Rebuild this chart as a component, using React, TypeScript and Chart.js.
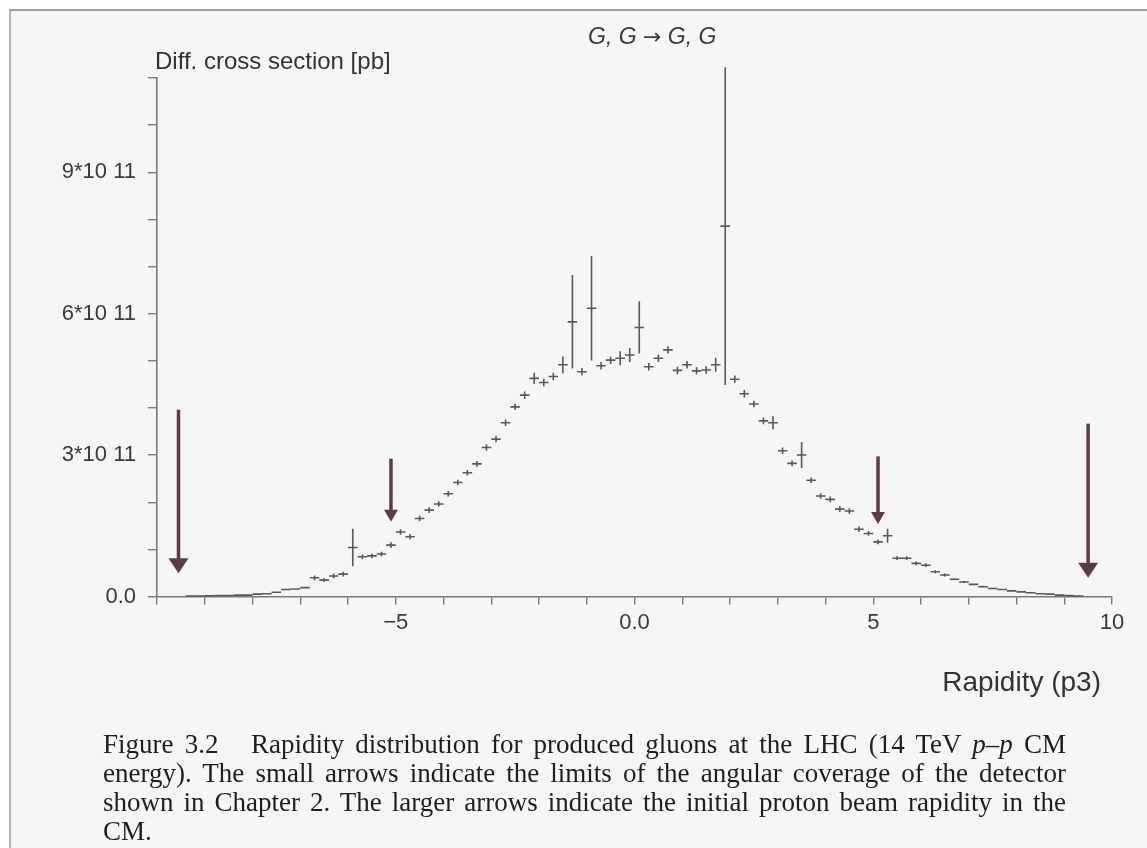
import React, { useEffect, useRef } from 'react';
import { Chart, registerables } from 'chart.js';

Chart.register(...registerables);

// ---- data (cross section in units of 1e11 pb) ----
const SCALE = 1e11;
const binWidth = 0.2;
const rapidity = [
  -9.3, -9.1, -8.9, -8.7, -8.5, -8.3, -8.1, -7.9, -7.7, -7.5, -7.3, -7.1, -6.9,
  -6.7, -6.5, -6.3, -6.1, -5.9, -5.7, -5.5, -5.3, -5.1, -4.9, -4.7, -4.5, -4.3,
  -4.1, -3.9, -3.7, -3.5, -3.3, -3.1, -2.9, -2.7, -2.5, -2.3, -2.1, -1.9, -1.7,
  -1.5, -1.3, -1.1, -0.9, -0.7, -0.5, -0.3, -0.1, 0.1, 0.3, 0.5, 0.7, 0.9, 1.1,
  1.3, 1.5, 1.7, 1.9, 2.1, 2.3, 2.5, 2.7, 2.9, 3.1, 3.3, 3.5, 3.7, 3.9, 4.1, 4.3,
  4.5, 4.7, 4.9, 5.1, 5.3, 5.5, 5.7, 5.9, 6.1, 6.3, 6.5, 6.7, 6.9, 7.1, 7.3, 7.5,
  7.7, 7.9, 8.1, 8.3, 8.5, 8.7, 8.9, 9.1, 9.3,
];
const crossSection = [
  0.01, 0.01, 0.015, 0.02, 0.02, 0.03, 0.03, 0.05, 0.06, 0.09, 0.15, 0.16, 0.19,
  0.40, 0.35, 0.44, 0.48, 1.05, 0.85, 0.87, 0.91, 1.10, 1.38, 1.28, 1.67, 1.85,
  1.98, 2.20, 2.44, 2.65, 2.84, 3.19, 3.37, 3.72, 4.06, 4.31, 4.67, 4.58, 4.71,
  4.96, 5.88, 4.81, 6.17, 4.94, 5.06, 5.10, 5.17, 5.76, 4.92, 5.10, 5.28, 4.84, 4.96,
  4.83, 4.85, 4.96, 7.93, 4.65, 4.34, 4.12, 3.76, 3.72, 3.12, 2.85, 3.03, 2.49, 2.15, 2.08, 1.87,
  1.83, 1.44, 1.35, 1.17, 1.30, 0.82, 0.82, 0.71, 0.67, 0.53, 0.46, 0.37, 0.31, 0.26, 0.21, 0.17,
  0.15, 0.12, 0.10, 0.08, 0.06, 0.05, 0.03, 0.02, 0.01,
];
const errors = [
  0.005, 0.005, 0.005, 0.005, 0.005, 0.005, 0.005, 0.01, 0.01, 0.01, 0.01, 0.01, 0.02,
  0.05, 0.04, 0.05, 0.05, 0.40, 0.05, 0.05, 0.05, 0.06, 0.06, 0.06, 0.06, 0.06,
  0.06, 0.06, 0.06, 0.06, 0.06, 0.07, 0.07, 0.07, 0.07, 0.08, 0.12, 0.08, 0.08,
  0.18, 1.00, 0.08, 1.12, 0.08, 0.08, 0.15, 0.15, 0.56, 0.08, 0.08, 0.08, 0.08, 0.08,
  0.08, 0.08, 0.15, 3.40, 0.08, 0.08, 0.07, 0.07, 0.14, 0.07, 0.06, 0.28, 0.06, 0.06, 0.06, 0.06,
  0.06, 0.06, 0.05, 0.05, 0.15, 0.04, 0.04, 0.04, 0.04, 0.03, 0.03, 0.02, 0.02, 0.02, 0.02, 0.01,
  0.01, 0.01, 0.01, 0.01, 0.005, 0.005, 0.005, 0.005, 0.005,
];

// beam-rapidity arrows (large) and detector-coverage arrows (small)
const beamArrowX = [-9.55, 9.5];
const beamArrowTop = [4.0, 3.7];
const beamArrowTip = [0.5, 0.4];
const detArrowX = [-5.1, 5.1];
const detArrowTop = [2.95, 3.0];
const detArrowTip = [1.6, 1.55];

const yTickLabels: Record<number, string> = { 0: '0.0', 3: '3*10 11', 6: '6*10 11', 9: '9*10 11' };
const xTickLabels: Record<number, string> = { [-5]: '\u22125', 0: '0.0', 5: '5', 10: '10' };

const ARROW_COLOR = '#5b3c44';
const CROSS_COLOR = '#585858';
const AXIS_COLOR = '#7a7a7a';
const TICK_FONT = { family: 'Liberation Sans, Arial, sans-serif', size: 22 };

const crossPlugin = {
  id: 'crossesAndArrows',
  afterDatasetsDraw(chart: any) {
    const { ctx, scales } = chart;
    const x = scales.x;
    const y = scales.y;
    const data = chart.data.datasets[0].data as { x: number; y: number; err: number }[];
    ctx.save();
    ctx.strokeStyle = CROSS_COLOR;
    ctx.lineWidth = 1.6;
    data.forEach((d) => {
      const px = x.getPixelForValue(d.x);
      const x0 = x.getPixelForValue(d.x - binWidth / 2);
      const x1 = x.getPixelForValue(d.x + binWidth / 2);
      const py = y.getPixelForValue(d.y);
      const top = y.getPixelForValue(d.y + d.err);
      const bot = y.getPixelForValue(Math.max(0, d.y - d.err));
      ctx.beginPath();
      ctx.moveTo(x0, py);
      ctx.lineTo(x1, py);
      ctx.moveTo(px, top);
      ctx.lineTo(px, bot);
      ctx.stroke();
    });

    const drawArrow = (xv: number, topv: number, tipv: number, lw: number, hw: number, hh: number) => {
      const px = x.getPixelForValue(xv);
      const pt = y.getPixelForValue(topv * SCALE);
      const ptip = y.getPixelForValue(tipv * SCALE);
      ctx.strokeStyle = ARROW_COLOR;
      ctx.fillStyle = ARROW_COLOR;
      ctx.lineWidth = lw;
      ctx.beginPath();
      ctx.moveTo(px, pt);
      ctx.lineTo(px, ptip - hh + 1);
      ctx.stroke();
      ctx.beginPath();
      ctx.moveTo(px - hw / 2, ptip - hh);
      ctx.lineTo(px + hw / 2, ptip - hh);
      ctx.lineTo(px, ptip);
      ctx.closePath();
      ctx.fill();
    };
    beamArrowX.forEach((bx, i) => drawArrow(bx, beamArrowTop[i], beamArrowTip[i], 3.5, 20, 15));
    detArrowX.forEach((dx, i) => drawArrow(dx, detArrowTop[i], detArrowTip[i], 3.5, 14, 12));
    ctx.restore();
  },
};

export default function App() {
  const canvasRef = useRef<HTMLCanvasElement | null>(null);

  useEffect(() => {
    if (!canvasRef.current) return;
    const points = rapidity.map((r, i) => ({ x: r, y: crossSection[i] * SCALE, err: errors[i] * SCALE }));
    const chart = new Chart(canvasRef.current, {
      type: 'scatter',
      data: {
        datasets: [
          {
            label: 'G, G \u2192 G, G',
            data: points,
            pointRadius: 0,
            pointHoverRadius: 0,
            showLine: false,
            borderColor: CROSS_COLOR,
          },
        ],
      },
      plugins: [crossPlugin],
      options: {
        animation: false,
        responsive: true,
        maintainAspectRatio: false,
        events: [],
        layout: { padding: { top: 78, right: 35, left: 0, bottom: 0 } },
        plugins: { legend: { display: false }, tooltip: { enabled: false }, title: { display: false } },
        scales: {
          x: {
            type: 'linear',
            min: -10,
            max: 10,
            afterFit: (s: any) => {
              s.height = 251.5;
            },
            ticks: {
              stepSize: 1,
              autoSkip: false,
              maxRotation: 0,
              includeBounds: false,
              padding: 5,
              color: '#3a3a3a',
              font: TICK_FONT,
              callback: (v: any) => (xTickLabels[Math.round(v)] !== undefined && Math.abs(v - Math.round(v)) < 1e-6 ? xTickLabels[Math.round(v)] : ''),
            },
            grid: { drawOnChartArea: false, drawTicks: true, tickLength: 8, color: AXIS_COLOR, lineWidth: 1.4 },
            border: { display: true, color: AXIS_COLOR, width: 1.6 },
          },
          y: {
            type: 'linear',
            min: 0,
            max: 11.1 * SCALE,
            afterFit: (s: any) => {
              s.width = 157;
            },
            ticks: {
              stepSize: SCALE,
              autoSkip: false,
              includeBounds: false,
              padding: 12,
              color: '#3a3a3a',
              font: TICK_FONT,
              callback: (v: any) => {
                const k = Math.round(v / SCALE);
                return yTickLabels[k] !== undefined ? yTickLabels[k] : '';
              },
            },
            grid: { drawOnChartArea: false, drawTicks: true, tickLength: 9, color: AXIS_COLOR, lineWidth: 1.4 },
            border: { display: true, color: AXIS_COLOR, width: 1.6 },
          },
        },
      },
    } as any);
    return () => chart.destroy();
  }, []);

  const sans = 'Liberation Sans, Arial, sans-serif';
  const serif = 'Liberation Serif, Times New Roman, serif';
  const captionLine: React.CSSProperties = {
    position: 'absolute',
    left: 103,
    width: 963,
    fontFamily: serif,
    fontSize: 27,
    lineHeight: '29px',
    color: '#1e1e1e',
    textAlign: 'justify',
    textAlignLast: 'justify' as any,
    whiteSpace: 'nowrap',
  };

  return (
    <div style={{ position: 'fixed', left: 0, top: 0, width: 1147, height: 848, background: '#ffffff', overflow: 'hidden' }}>
      <div
        style={{
          position: 'absolute',
          left: 9,
          top: 9,
          width: 1138,
          height: 839,
          background: '#f6f6f4',
          borderTop: '2px solid #a0a0a0',
          borderLeft: '2px solid #b4b4b4',
        }}
      />
      <div style={{ position: 'absolute', left: 0, top: 0, width: 1147, height: 848 }}>
        <canvas ref={canvasRef} />
      </div>
      <div style={{ position: 'absolute', left: 588, top: 23, fontFamily: sans, fontStyle: 'italic', fontSize: 23, color: '#3a3a3a', whiteSpace: 'nowrap' }}>
        G, G <span style={{ fontFamily: 'DejaVu Sans, sans-serif', fontStyle: 'normal', fontSize: 22 }}>{'\u2192'}</span> G, G
      </div>
      <div style={{ position: 'absolute', left: 155, top: 47, fontFamily: sans, fontSize: 24, color: '#333', whiteSpace: 'nowrap' }}>
        Diff. cross section [pb]
      </div>
      <div style={{ position: 'absolute', right: 1147 - 1101, top: 666, fontFamily: sans, fontSize: 28, color: '#333', whiteSpace: 'nowrap' }}>
        Rapidity (p3)
      </div>
      <div style={{ ...captionLine, top: 730 }}>
        Figure 3.2 <span style={{ display: 'inline-block', width: 10 }} /> Rapidity distribution for produced gluons at the LHC (14 TeV <i>p</i>–<i>p</i> CM
      </div>
      <div style={{ ...captionLine, top: 759 }}>
        energy). The small arrows indicate the limits of the angular coverage of the detector
      </div>
      <div style={{ ...captionLine, top: 788 }}>
        shown in Chapter 2. The larger arrows indicate the initial proton beam rapidity in the
      </div>
      <div style={{ ...captionLine, top: 817, textAlignLast: 'left' as any }}>CM.</div>
    </div>
  );
}
